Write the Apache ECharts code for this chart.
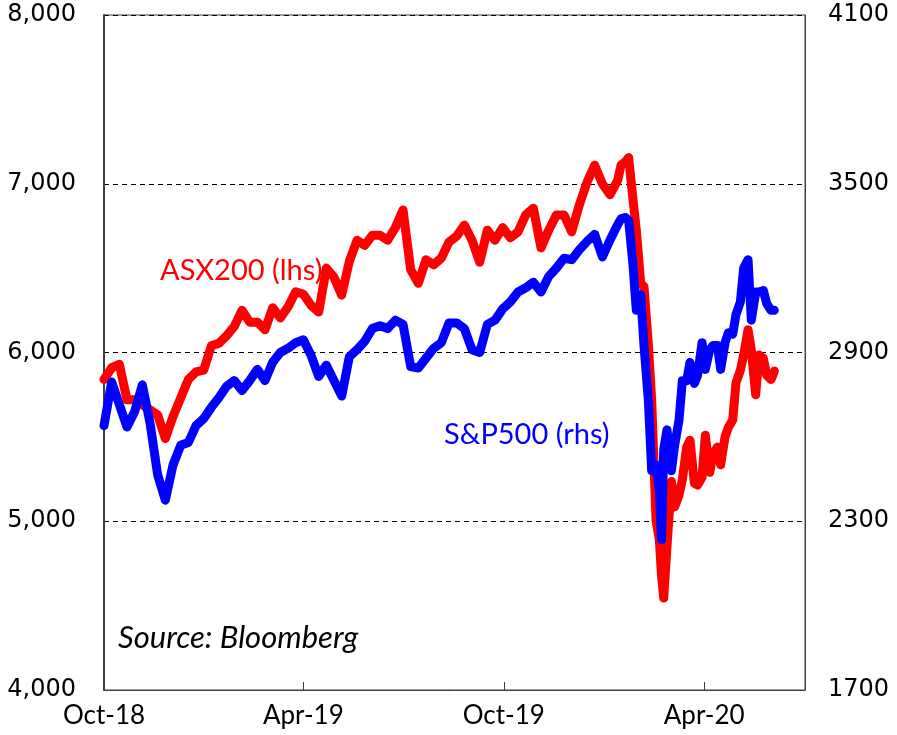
<!DOCTYPE html>
<html>
<head>
<meta charset="utf-8">
<script src="https://cdn.jsdelivr.net/npm/echarts@6/dist/echarts.min.js"></script>
<style>
  html, body { margin: 0; padding: 0; background: #fff; }
  #chart { width: 897px; height: 735px; }
</style>
</head>
<body>
<div id="chart"></div>
<script>
const dates = [
  '2018-10-01', '2018-10-08', '2018-10-15', '2018-10-22', '2018-10-29', '2018-11-05', '2018-11-12', '2018-11-19',
  '2018-11-26', '2018-12-03', '2018-12-10', '2018-12-17', '2018-12-24', '2018-12-31', '2019-01-07', '2019-01-14',
  '2019-01-21', '2019-01-28', '2019-02-04', '2019-02-11', '2019-02-18', '2019-02-25', '2019-03-04', '2019-03-11',
  '2019-03-18', '2019-03-25', '2019-04-01', '2019-04-08', '2019-04-15', '2019-04-22', '2019-04-29', '2019-05-06',
  '2019-05-13', '2019-05-20', '2019-05-27', '2019-06-03', '2019-06-10', '2019-06-17', '2019-06-24', '2019-07-01',
  '2019-07-08', '2019-07-15', '2019-07-22', '2019-07-29', '2019-08-05', '2019-08-12', '2019-08-19', '2019-08-26',
  '2019-09-02', '2019-09-09', '2019-09-16', '2019-09-23', '2019-09-30', '2019-10-07', '2019-10-14', '2019-10-21',
  '2019-10-28', '2019-11-04', '2019-11-11', '2019-11-18', '2019-11-25', '2019-12-02', '2019-12-09', '2019-12-16',
  '2019-12-23', '2019-12-30', '2020-01-06', '2020-01-13', '2020-01-16', '2020-01-20', '2020-01-23', '2020-01-27',
  '2020-01-30', '2020-02-03', '2020-02-06', '2020-02-10', '2020-02-13', '2020-02-17', '2020-02-20', '2020-02-22',
  '2020-02-24', '2020-02-27', '2020-03-02', '2020-03-05', '2020-03-09', '2020-03-12', '2020-03-16', '2020-03-19',
  '2020-03-23', '2020-03-26', '2020-03-30', '2020-04-02', '2020-04-06', '2020-04-09', '2020-04-13', '2020-04-16',
  '2020-04-20', '2020-04-23', '2020-04-27', '2020-04-30', '2020-05-04', '2020-05-07', '2020-05-11', '2020-05-14',
  '2020-05-18', '2020-05-21', '2020-05-25', '2020-05-28', '2020-06-01', '2020-06-04'
];

// ASX200, left axis
const asx200 = [
  5840, 5910, 5930, 5720, 5720, 5690, 5660, 5630,
  5490, 5620, 5730, 5840, 5885, 5895, 6040, 6055,
  6100, 6155, 6250, 6180, 6180, 6135, 6265, 6205,
  6270, 6360, 6345, 6280, 6240, 6500, 6445, 6340,
  6540, 6665, 6635, 6695, 6695, 6665, 6740, 6845,
  6490, 6410, 6550, 6520, 6560, 6655, 6690, 6755,
  6665, 6535, 6725, 6665, 6740, 6680, 6715, 6815,
  6855, 6620, 6725, 6815, 6815, 6715, 6875, 7010,
  7110, 7000, 6935, 7020, 7110, 7130, 7155, 6905,
  6725, 6410, 6390, 6045, 5720, 5005, 4890, 4680,
  4545, 4850, 5235, 5085, 5155, 5245, 5440, 5480,
  5225, 5215, 5260, 5510, 5290, 5395, 5440, 5335,
  5500, 5555, 5600, 5820, 5895, 5985, 6135, 6015,
  5750, 5985, 5965, 5865, 5840, 5890
];

// S&P500, right axis
const sp500 = [
  2640, 2795, 2715, 2635, 2690, 2785, 2650, 2465,
  2375, 2500, 2570, 2580, 2640, 2665, 2705, 2740,
  2780, 2800, 2765, 2800, 2840, 2800, 2865, 2900,
  2915, 2935, 2945, 2890, 2815, 2855, 2800, 2745,
  2885, 2910, 2940, 2985, 2995, 2985, 3015, 3000,
  2850, 2845, 2880, 2915, 2935, 3005, 3005, 2985,
  2910, 2900, 3000, 3015, 3055, 3080, 3115, 3130,
  3150, 3115, 3170, 3200, 3235, 3230, 3265, 3295,
  3320, 3240, 3300, 3355, 3375, 3380, 3370, 3210,
  3050, 3105, 2925, 2730, 2480, 2500, 2410, 2235,
  2555, 2625, 2480, 2570, 2660, 2800, 2800, 2865,
  2790, 2820, 2935, 2840, 2910, 2925, 2925, 2840,
  2935, 2970, 2965, 3035, 3080, 3200, 3230, 3015,
  3115, 3115, 3120, 3075, 3050, 3050
];

const xTickDates = ['2018-10-01', '2019-04-01', '2019-10-01', '2020-04-01'];
const rhsTicks = [1700, 2300, 2900, 3500, 4100];
const months = ['Jan', 'Feb', 'Mar', 'Apr', 'May', 'Jun', 'Jul', 'Aug', 'Sep', 'Oct', 'Nov', 'Dec'];

function toTime(s) {
  const p = s.split('-');
  return new Date(+p[0], +p[1] - 1, +p[2]).getTime();
}

const chart = echarts.init(document.getElementById('chart'));

chart.setOption({
  animation: false,
  grid: {
    left: 104,
    right: 92,
    top: 15,
    bottom: 45,
    show: true,
    borderColor: '#404040',
    borderWidth: 1
  },
  xAxis: {
    type: 'value',
    min: toTime('2018-10-01'),
    max: toTime('2020-07-02'),
    axisLine: { show: true, onZero: false, lineStyle: { color: '#404040', width: 1 } },
    axisTick: {
      show: true,
      inside: true,
      length: 8,
      customValues: xTickDates.map(toTime),
      lineStyle: { color: '#404040' }
    },
    axisLabel: {
      customValues: xTickDates.map(toTime),
      formatter: function (v) {
        const d = new Date(v);
        return months[d.getMonth()] + '-' + String(d.getFullYear()).slice(2);
      },
      color: '#000',
      fontFamily: 'Lato',
      fontSize: 26,
      margin: 13
    },
    splitLine: { show: false }
  },
  yAxis: [
    {
      type: 'value',
      min: 4000,
      max: 8000,
      interval: 1000,
      position: 'left',
      axisLine: { show: true, lineStyle: { color: '#404040', width: 2 } },
      axisTick: { show: false },
      axisLabel: {
        formatter: function (v) { return v.toLocaleString('en-US'); },
        color: '#000',
        fontFamily: 'DejaVu Sans',
        fontSize: 24,
        margin: 28
      },
      splitLine: {
        show: true,
        lineStyle: { color: '#000', type: [5, 4], width: 1 }
      }
    },
    {
      type: 'value',
      min: 1700,
      max: 4100,
      position: 'right',
      axisLine: { show: true, lineStyle: { color: '#404040', width: 1 } },
      axisTick: { show: false },
      axisLabel: {
        customValues: rhsTicks,
        formatter: function (v) { return String(v); },
        color: '#000',
        fontFamily: 'DejaVu Sans',
        fontSize: 24,
        margin: 23
      },
      splitLine: { show: false }
    }
  ],
  graphic: [
    {
      type: 'text',
      left: 160,
      top: 256,
      style: { text: 'ASX200 (lhs)', fill: '#ff0000', font: '29px Lato' }
    },
    {
      type: 'text',
      left: 444,
      top: 420,
      style: { text: 'S&P500 (rhs)', fill: '#0000ff', font: '29px Lato' }
    },
    {
      type: 'text',
      left: 118,
      top: 622,
      style: { text: 'Source: Bloomberg', fill: '#000', font: 'italic 31px Lato' }
    }
  ],
  series: [
    {
      name: 'ASX200 (lhs)',
      type: 'line',
      yAxisIndex: 0,
      showSymbol: false,
      data: dates.map(function (d, i) { return [toTime(d), asx200[i]]; }),
      lineStyle: { color: '#ff0000', width: 9, cap: 'round', join: 'round' }
    },
    {
      name: 'S&P500 (rhs)',
      type: 'line',
      yAxisIndex: 1,
      showSymbol: false,
      data: dates.map(function (d, i) { return [toTime(d), sp500[i]]; }),
      lineStyle: { color: '#0000ff', width: 9, cap: 'round', join: 'round' }
    }
  ]
});
</script>
</body>
</html>
